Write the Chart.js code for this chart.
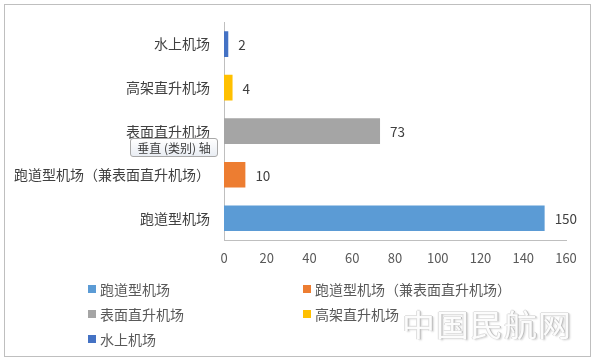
<!DOCTYPE html>
<html>
<head>
<meta charset="utf-8">
<script src="https://cdn.jsdelivr.net/npm/chart.js@4.4.1/dist/chart.umd.min.js"></script>
<style>
body{margin:0;background:#fff;font-family:"Noto Sans CJK SC","Noto Sans",sans-serif;}
#wrap{position:relative;width:600px;height:364px;overflow:hidden;}
#frame{position:absolute;left:4px;top:4px;width:587px;height:353px;border:1px solid #bfbfbf;box-sizing:border-box;}
#legend{position:absolute;left:88px;top:279px;display:grid;grid-template-columns:215px 260px;row-gap:6px;font-size:14px;color:#595959;}
#legend div{display:flex;align-items:center;height:19px;white-space:nowrap;}
#legend span.box{display:inline-block;width:8px;height:8px;margin-right:4px;}
#tip{position:absolute;left:130px;top:138px;width:88px;height:19px;box-sizing:border-box;border:1px solid #a8a8a8;border-radius:3px;
background:linear-gradient(#ffffff,#e9edf3);font-size:12px;color:#3c3c3c;line-height:17px;text-align:center;}
#mark{position:absolute;left:402px;top:299px;font-size:33px;letter-spacing:1px;color:#fcfcfc;transform:scaleY(0.9);
text-shadow:1px 1px 0 #bdbdbd,-1px 0 0 #dedede,0 -1px 0 #e2e2e2,2px 2px 2px #d4d4d4;}
</style>
</head>
<body>
<div id="wrap">
<canvas id="chart" width="600" height="364"></canvas>
<div id="frame"></div>
<div id="tip">垂直 (类别) 轴</div>
<div id="legend"></div>
<div id="mark">中国民航网</div>
</div>
<script>

/* ==========================================
DATA
========================================== */

const categories = [
"跑道型机场",
"跑道型机场（兼表面直升机场）",
"表面直升机场",
"高架直升机场",
"水上机场"
];

const counts = [150, 10, 73, 4, 2];

const colors = ["#5b9bd5", "#ed7d31", "#a5a5a5", "#ffc000", "#4472c4"];

const xTicks = [0, 20, 40, 60, 80, 100, 120, 140, 160];


/* ==========================================
VALUE LABELS
========================================== */

const valueLabels = {
id: "valueLabels",
afterDatasetsDraw(chart){
const ctx = chart.ctx;
const meta = chart.getDatasetMeta(0);
ctx.save();
ctx.font = "13.5px 'Noto Sans CJK SC', sans-serif";
ctx.fillStyle = "#404040";
ctx.textAlign = "left";
ctx.textBaseline = "middle";
meta.data.forEach((bar, i) => {
ctx.fillText(String(counts[i]), bar.x + 10, bar.y + 1);
});
ctx.restore();
}
};


/* ==========================================
CHART
========================================== */

new Chart(
document.getElementById("chart"),
{
type: "bar",
data: {
labels: categories,
datasets: [{
data: counts,
backgroundColor: colors,
borderWidth: 0,
barPercentage: 0.59,
categoryPercentage: 1
}]
},
options: {
indexAxis: "y",
responsive: false,
animation: false,
layout: {
padding: {left: 0, right: 34, top: 20, bottom: 94}
},
plugins: {
legend: {display: false},
tooltip: {enabled: false}
},
scales: {
x: {
min: 0,
max: 160,
afterBuildTicks(scale){
scale.ticks = xTicks.map(v => ({value: v}));
},
afterFit(scale){ scale.height = 30; },
grid: {display: false, drawTicks: false},
border: {display: true, color: "#bfbfbf"},
ticks: {
padding: 10,
color: "#595959",
font: {size: 13, family: "'Noto Sans CJK SC', sans-serif"}
}
},
y: {
reverse: true,
afterFit(scale){ scale.width = 224; },
grid: {display: false, drawTicks: false},
border: {display: true, color: "#bfbfbf"},
ticks: {
padding: 14,
color: "#404040",
font: {size: 14, family: "'Noto Sans CJK SC', sans-serif"}
}
}
}
},
plugins: [valueLabels]
}
);


/* ==========================================
LEGEND (two columns, like the original)
========================================== */

const legend = document.getElementById("legend");
categories.forEach((name, i) => {
const item = document.createElement("div");
const box = document.createElement("span");
box.className = "box";
box.style.background = colors[i];
item.appendChild(box);
item.appendChild(document.createTextNode(name));
legend.appendChild(item);
});

</script>
</body>
</html>
